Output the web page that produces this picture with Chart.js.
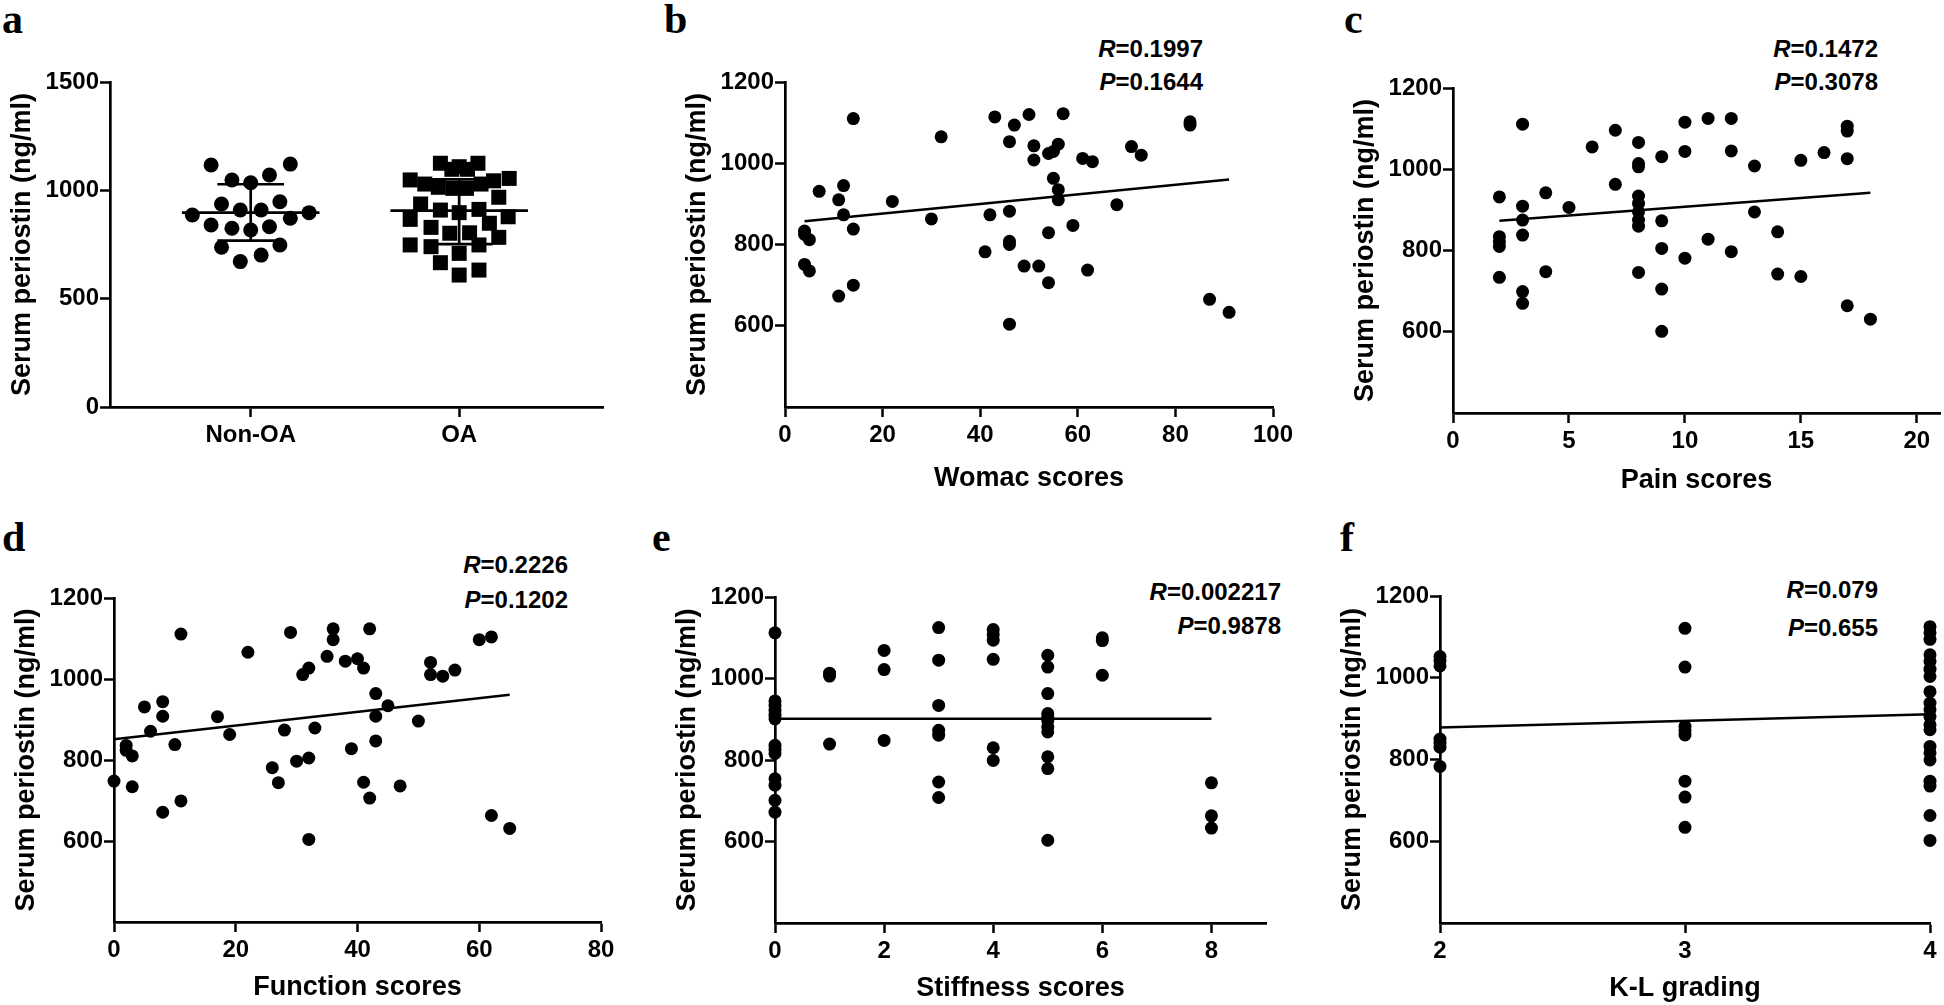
<!DOCTYPE html>
<html>
<head>
<meta charset="utf-8">
<script src="https://cdn.jsdelivr.net/npm/chart.js@4.4.0/dist/chart.umd.min.js"></script>
<style>
  body { margin: 0; background: #fff; }
  #fig { position: relative; width: 1944px; height: 1005px; overflow: hidden; font-family: "Liberation Sans", Arial, sans-serif; color: #000; }
  canvas { position: absolute; }
  .lab { position: absolute; font-family: "Liberation Serif", "Times New Roman", serif; font-weight: bold; font-size: 42px; line-height: 42px; }
  .stat { position: absolute; font-weight: bold; font-size: 24px; line-height: 24px; text-align: right; white-space: nowrap; }
</style>
</head>
<body>
<div id="fig">
  <div class="lab" style="left:2px;top:-2px">a</div>
  <div class="lab" style="left:664px;top:-2px">b</div>
  <div class="lab" style="left:1344px;top:-2px">c</div>
  <div class="lab" style="left:2px;top:516px">d</div>
  <div class="lab" style="left:652px;top:516px">e</div>
  <div class="lab" style="left:1340px;top:516px">f</div>

  <div class="stat" style="right:741px;top:37px"><i>R</i>=0.1997</div>
  <div class="stat" style="right:741px;top:70px"><i>P</i>=0.1644</div>
  <div class="stat" style="right:66px;top:37px"><i>R</i>=0.1472</div>
  <div class="stat" style="right:66px;top:70px"><i>P</i>=0.3078</div>
  <div class="stat" style="right:1376px;top:553px"><i>R</i>=0.2226</div>
  <div class="stat" style="right:1376px;top:588px"><i>P</i>=0.1202</div>
  <div class="stat" style="right:663px;top:580px"><i>R</i>=0.002217</div>
  <div class="stat" style="right:663px;top:614px"><i>P</i>=0.9878</div>
  <div class="stat" style="right:66px;top:578px"><i>R</i>=0.079</div>
  <div class="stat" style="right:66px;top:616px"><i>P</i>=0.655</div>
</div>
<script>
// ---- dados ----

// a: Non-OA x OA (dispersão com média ± DP)
const groups = ['Non-OA', 'OA'];
const nonOAValues = [1117, 1121, 1048, 1071, 1035, 937, 947, 909, 909, 886, 897, 871, 840, 825, 817, 832, 737, 748, 701, 671];
const nonOAJitter = [-0.19, 0.19, -0.09, 0.09, 0, -0.14, 0.14, -0.05, 0.05, -0.28, 0.28, 0.19, -0.19, -0.09, 0, 0.09, -0.14, 0.14, 0.05, -0.05];
const oaValues = [1125, 1125, 1109, 1097, 1097, 1048, 1055, 1029, 1044, 1029, 1014, 1009, 1009, 968, 937, 909, 897, 912,
  866, 878, 848, 829, 802, 804, 783, 748, 740, 748, 709, 666, 632, 609];
const oaJitter = [-0.09, 0.09, 0, -0.035, 0.04, -0.235, 0.24, -0.165, 0.165, 0.105, -0.1, -0.03, 0.035, 0.19, -0.185, -0.09, 0, 0.095,
  -0.235, 0.235, 0.145, -0.135, -0.045, 0.05, 0.19, -0.235, -0.135, 0.095, 0, -0.09, 0.095, 0];
const groupMean = [897, 906];
const groupUpper = [1028, 1051];
const groupLower = [768, 752];

// b: Womac
const womacX = [14, 43, 50, 57, 47, 83, 83, 32, 46, 51, 56, 54, 55, 71, 73, 51, 61, 63, 55, 56,
  56, 7, 12, 11, 22, 12, 68, 46, 42, 30, 59, 14, 54, 4, 4, 5, 46, 46, 41, 4,
  5, 49, 52, 62, 54, 14, 11, 87, 91, 46];
const womacY = [1110, 1114, 1120, 1122, 1094, 1102, 1094, 1065, 1053, 1043, 1047, 1024, 1029, 1041, 1020, 1008, 1012, 1004, 963, 935,
  910, 931, 945, 910, 906, 873, 898, 882, 873, 863, 847, 838, 829, 833, 825, 812, 808, 800, 782, 751,
  735, 747, 747, 737, 706, 700, 673, 665, 633, 604];
const womacFitX = [4, 91];
const womacFitY = [857, 960];

// c: Pain
const painX = [2, 2, 2, 2, 2, 3, 3, 3, 3, 3, 3, 4, 4, 5, 6, 7, 7, 8, 8, 8, 8, 8, 8, 8, 8, 8,
  9, 9, 9, 9, 9, 10, 10, 10, 11, 11, 12, 12, 12, 13, 13, 14, 14, 15, 15, 16, 17, 17, 17, 17, 18];
const painY = [932, 834, 822, 810, 734, 1111, 909, 875, 838, 699, 670, 942, 748, 906, 1055, 1096, 963,
  1066, 1014, 1006, 934, 916, 895, 875, 860, 746, 1031, 873, 805, 705, 601, 1116, 1044, 781,
  1125, 828, 1125, 1045, 797, 1008, 895, 846, 742, 1022, 736, 1041, 1106, 1094, 1026, 664, 631];
const painFitX = [2, 18];
const painFitY = [873, 942];

// d: Function
const functionX = [0, 2, 2, 3, 3, 5, 6, 8, 8, 8, 10, 11, 11, 17, 19, 22, 26, 27, 28, 29,
  30, 31, 32, 32, 32, 33, 35, 36, 36, 38, 39, 40, 41, 41, 42, 42, 43, 43, 43, 45,
  47, 50, 52, 52, 54, 56, 60, 62, 62, 65];
const functionY = [748, 836, 824, 810, 734, 931, 871, 944, 908, 671, 838, 1111, 699, 907, 863, 1066, 781, 744, 874, 1115,
  797, 1011, 1027, 805, 604, 879, 1056, 1124, 1097, 1044, 828, 1050, 1027, 745, 1124, 706, 964, 908, 847, 934,
  736, 896, 1041, 1011, 1007, 1022, 1097, 1104, 663, 631];
const functionFitX = [0, 65];
const functionFitY = [851, 961];

// e: Stiffness
const stiffnessX = [0, 0, 0, 0, 0, 0, 0, 0, 0, 0, 0, 0, 0, 1, 1, 1, 2, 2, 2, 3, 3, 3, 3, 3, 3, 3,
  4, 4, 4, 4, 4, 4, 5, 5, 5, 5, 5, 5, 5, 5, 5, 5, 5, 6, 6, 6, 8, 8, 8];
const stiffnessY = [1112, 945, 934, 922, 910, 901, 836, 826, 816, 754, 738, 701, 672, 1013, 1006, 839, 1069, 1022, 848,
  1125, 1045, 934, 873, 861, 746, 708, 1120, 1108, 1094, 1047, 830, 799,
  1057, 1028, 963, 914, 906, 897, 881, 869, 808, 779, 603, 1100, 1093, 1008, 744, 663, 633];
const stiffnessFitX = [0, 8];
const stiffnessFitY = [901, 901];

// f: K-L
const klX = [2, 2, 2, 2, 2, 2, 2, 3, 3, 3, 3, 3, 3, 3, 3,
  4, 4, 4, 4, 4, 4, 4, 4, 4, 4, 4, 4, 4, 4, 4, 4, 4, 4, 4, 4];
const klY = [1052, 1042, 1029, 850, 840, 830, 783, 1121, 1026, 881, 871, 860, 747, 708, 634,
  1125, 1110, 1094, 1056, 1040, 1021, 1003, 966, 938, 922, 905, 885, 873, 832, 816, 799, 747, 735, 663, 602];
const klFitX = [2, 4];
const klFitY = [878, 911];

// ticks
const ticksA = [0, 500, 1000, 1500];
const ticksY = [600, 800, 1000, 1200];
const ticksWomac = [0, 20, 40, 60, 80, 100];
const ticksPain = [0, 5, 10, 15, 20];
const ticksFunction = [0, 20, 40, 60, 80];
const ticksStiffness = [0, 2, 4, 6, 8];
const ticksKL = [2, 3, 4];

// ---- desenho ----
const FONT = '"Liberation Sans", Arial, sans-serif';
const Y_W = 110, X_H = 90, PAD_T = 22, PAD_R = 30;

function pts(xs, ys) { return xs.map((x, i) => ({ x: x, y: ys[i] })); }

function dots(data, style, r) {
  return { data: data, pointStyle: style || 'circle', pointRadius: r || 6.5, pointHoverRadius: r || 6.5,
    backgroundColor: '#000', borderWidth: 0, showLine: false, clip: false };
}
function line(data, w) {
  return { data: data, showLine: true, borderColor: '#000', borderWidth: w || 2.5, pointRadius: 0,
    pointHoverRadius: 0, fill: false, tension: 0, clip: false };
}

function axis(isX, min, max, ticks, title, titlePad, labels) {
  return {
    type: 'linear', min: min, max: max,
    afterBuildTicks: s => { s.ticks = ticks.map(v => ({ value: v })); },
    afterFit: s => { if (isX) s.height = X_H; else s.width = Y_W; },
    grid: { drawOnChartArea: false, drawTicks: true, tickLength: 10, tickWidth: 2.5, tickColor: '#000' },
    border: { display: true, color: '#000', width: 2.7 },
    ticks: { color: '#000', padding: isX ? 4 : 1, autoSkip: false, maxRotation: 0,
      font: { family: FONT, size: 24, weight: 'bold' },
      callback: v => labels ? labels[ticks.indexOf(v)] : String(v) },
    title: { display: !!title, text: title, color: '#000',
      font: { family: FONT, size: 27, weight: 'bold' },
      padding: isX ? { top: 0, bottom: titlePad } : { top: titlePad, bottom: 0 } }
  };
}

function panel(area, datasets, xScale, yScale) {
  const c = document.createElement('canvas');
  const w = area.r - area.l + Y_W + PAD_R;
  const h = area.b - area.t + PAD_T + X_H;
  c.width = w; c.height = h;
  c.style.left = (area.l - Y_W) + 'px';
  c.style.top = (area.t - PAD_T) + 'px';
  c.style.width = w + 'px'; c.style.height = h + 'px';
  document.getElementById('fig').appendChild(c);
  new Chart(c.getContext('2d'), {
    type: 'scatter',
    data: { datasets: datasets },
    options: {
      responsive: false, animation: false, events: [],
      layout: { padding: { top: PAD_T, right: PAD_R, left: 0, bottom: 0 } },
      plugins: { legend: { display: false }, tooltip: { enabled: false } },
      scales: { x: xScale, y: yScale }
    }
  });
}

// a
const nonOA = nonOAValues.map((v, i) => ({ x: 1 + nonOAJitter[i], y: v }));
const oa = oaValues.map((v, i) => ({ x: 2 + oaJitter[i], y: v }));
const barSets = [];
groupMean.forEach((m, i) => {
  const g = i + 1;
  barSets.push(line([{ x: g - 0.33, y: m }, { x: g + 0.33, y: m }], 2.7));
  barSets.push(line([{ x: g - 0.16, y: groupUpper[i] }, { x: g + 0.16, y: groupUpper[i] }], 2.7));
  barSets.push(line([{ x: g - 0.16, y: groupLower[i] }, { x: g + 0.16, y: groupLower[i] }], 2.7));
  barSets.push(line([{ x: g, y: groupLower[i] }, { x: g, y: groupUpper[i] }], 2.7));
});
panel({ l: 110, r: 603, t: 82, b: 407 },
  barSets.concat([dots(nonOA, 'circle', 7.5), dots(oa, 'rect', 10.6)]),
  axis(true, 0.325, 2.69, [1, 2], '', 0, groups),
  axis(false, 0, 1500, ticksA, 'Serum periostin (ng/ml)', 6));

// b
panel({ l: 785, r: 1273, t: 82, b: 407 },
  [line(pts(womacFitX, womacFitY)), dots(pts(womacX, womacY))],
  axis(true, 0, 100, ticksWomac, 'Womac scores', 2),
  axis(false, 400, 1200, ticksY, 'Serum periostin (ng/ml)', 6));

// c
panel({ l: 1453, r: 1940, t: 88, b: 413 },
  [line(pts(painFitX, painFitY)), dots(pts(painX, painY))],
  axis(true, 0, 21, ticksPain, 'Pain scores', 6),
  axis(false, 400, 1200, ticksY, 'Serum periostin (ng/ml)', 6));

// d
panel({ l: 114, r: 601, t: 598, b: 922 },
  [line(pts(functionFitX, functionFitY)), dots(pts(functionX, functionY))],
  axis(true, 0, 80, ticksFunction, 'Function scores', 8),
  axis(false, 400, 1200, ticksY, 'Serum periostin (ng/ml)', 6));

// e
panel({ l: 775, r: 1266, t: 597, b: 923 },
  [line(pts(stiffnessFitX, stiffnessFitY)), dots(pts(stiffnessX, stiffnessY))],
  axis(true, 0, 9, ticksStiffness, 'Stiffness scores', 8),
  axis(false, 400, 1200, ticksY, 'Serum periostin (ng/ml)', 6));

// f
panel({ l: 1440, r: 1930, t: 596, b: 923 },
  [line(pts(klFitX, klFitY)), dots(pts(klX, klY))],
  axis(true, 2, 4, ticksKL, 'K-L grading', 8),
  axis(false, 400, 1200, ticksY, 'Serum periostin (ng/ml)', 6));
</script>
</body>
</html>
